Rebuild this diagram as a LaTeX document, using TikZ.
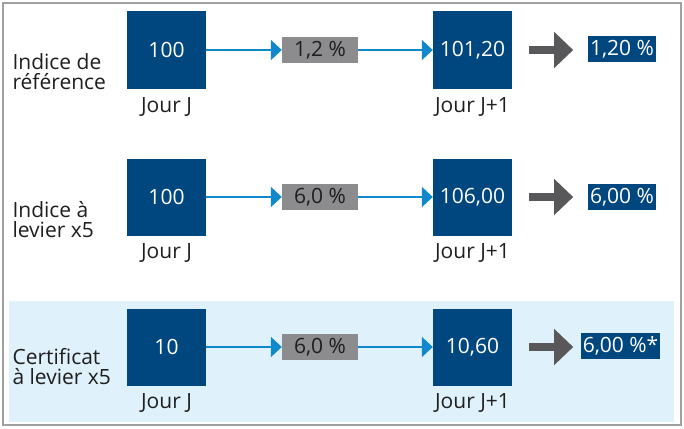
\documentclass[tikz,border=0pt]{standalone}
\usepackage{fontspec}
\setmainfont{Open Sans}
\usepackage{tikz}
\usetikzlibrary{arrows.meta,positioning}
\definecolor{darkblue}{RGB}{0,71,128}
\definecolor{flowblue}{RGB}{16,136,204}
\definecolor{pctgray}{RGB}{140,140,142}
\definecolor{arrgray}{RGB}{88,88,90}
\definecolor{bandblue}{RGB}{223,241,250}
\definecolor{framegray}{RGB}{160,160,160}
\definecolor{textgray}{RGB}{30,30,30}
\tikzset{val/.style={fill=darkblue, text=white, minimum width=79pt, minimum height=77pt, inner sep=0pt},
  pct/.style={fill=pctgray, text=textgray, minimum width=76pt, minimum height=26pt, inner sep=0pt},
  res/.style={fill=darkblue, text=white, minimum height=26pt, inner xsep=2pt, inner ysep=0pt},
  day/.style={text=textgray},
  rowlabel/.style={text=textgray, anchor=west, align=left},
  flow/.style={draw=flowblue, line width=2pt, -{Triangle[length=11pt,width=20pt]}},
  bigarr/.style={draw=arrgray, line width=8pt, -{Triangle[length=19pt,width=35pt]}}}

\begin{document}
\begin{tikzpicture}[x=1pt, y=-1pt, font=\fontsize{21}{20}\selectfont]
    \useasboundingbox (0,0) rectangle (684,428);
    \fill [bandblue] (9,301) rectangle (674,422);
    \draw [framegray, line width=1.5pt] (3,3) rectangle (681,425);
    % Indice de reference
    \node [rowlabel] (lab1) at (9,72) {Indice de\\référence};
    \node [val] (a1) at (166.5,50) {100};
    \node [pct] (p1) at (320,50) {1,2 \%};
    \node [val] (b1) at (472.5,50) {101,20};
    \node [res] (r1) at (622,49) {1,20 \%};
    \node [day] (ja1) at (166.5,107) {Jour J};
    \node [day] (jb1) at (472.5,107) {Jour J+1};
    \draw [flow] (a1) -- (p1);
    \draw [flow] (p1) -- (b1);
    \draw [bigarr] ([xshift=17pt]b1.east) -- ([xshift=61pt]b1.east);
    % Indice a levier
    \node [rowlabel] (lab2) at (9,219.5) {Indice à\\levier x5};
    \node [val] (a2) at (166.5,197) {100};
    \node [pct] (p2) at (320,197) {6,0 \%};
    \node [val] (b2) at (472.5,197) {106,00};
    \node [res] (r2) at (622,197) {6,00 \%};
    \node [day] (ja2) at (166.5,253) {Jour J};
    \node [day] (jb2) at (472.5,253) {Jour J+1};
    \draw [flow] (a2) -- (p2);
    \draw [flow] (p2) -- (b2);
    \draw [bigarr] ([xshift=17pt]b2.east) -- ([xshift=61pt]b2.east);
    % Certificat a levier
    \node [rowlabel] (lab3) at (9,367) {Certificat\\à levier x5};
    \node [val] (a3) at (166.5,347) {10};
    \node [pct] (p3) at (320,347) {6,0 \%};
    \node [val] (b3) at (472.5,347) {10,60};
    \node [res] (r3) at (620.5,345.5) {6,00 \%*};
    \node [day] (ja3) at (166.5,403) {Jour J};
    \node [day] (jb3) at (472.5,403) {Jour J+1};
    \draw [flow] (a3) -- (p3);
    \draw [flow] (p3) -- (b3);
    \draw [bigarr] ([xshift=17pt]b3.east) -- ([xshift=61pt]b3.east);
  \end{tikzpicture}
\end{document}
